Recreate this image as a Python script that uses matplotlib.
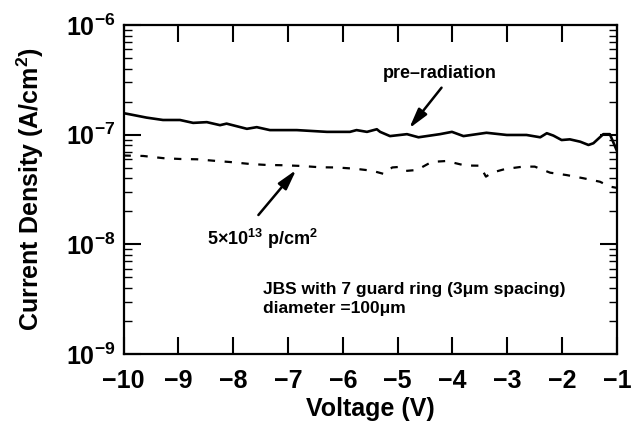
import matplotlib
matplotlib.use("Agg")
import matplotlib.pyplot as plt
from matplotlib.ticker import LogLocator, NullFormatter, FixedLocator, NullLocator

plt.rcParams["font.family"] = ["Liberation Sans", "DejaVu Sans"]
plt.rcParams["font.weight"] = "bold"
plt.rcParams["mathtext.fontset"] = "custom"
plt.rcParams["mathtext.rm"] = "Liberation Sans:bold"
plt.rcParams["mathtext.bf"] = "Liberation Sans:bold"
plt.rcParams["mathtext.it"] = "Liberation Sans:bold"
plt.rcParams["mathtext.default"] = "bf"

# Leakage current density, pre-radiation (solid)
v_pre = [-10.0, -9.88, -9.58, -9.28, -8.97, -8.73, -8.48, -8.24, -8.12, -7.75,
         -7.57, -7.33, -6.84, -6.29, -5.87, -5.75, -5.56, -5.38, -5.32, -5.14,
         -4.83, -4.62, -4.23, -4.01, -3.80, -3.38, -3.01, -2.65, -2.40, -2.28,
         -2.16, -2.01, -1.86, -1.67, -1.52, -1.43, -1.25, -1.13, -1.0]
j_pre = [1.57e-7, 1.53e-7, 1.43e-7, 1.36e-7, 1.36e-7, 1.28e-7, 1.30e-7, 1.22e-7,
         1.26e-7, 1.13e-7, 1.17e-7, 1.10e-7, 1.10e-7, 1.06e-7, 1.06e-7, 1.10e-7,
         1.06e-7, 1.12e-7, 1.06e-7, 9.7e-8, 1.01e-7, 9.46e-8, 1.01e-7, 1.06e-7,
         9.7e-8, 1.04e-7, 9.93e-8, 9.93e-8, 9.46e-8, 1.03e-7, 9.8e-8, 8.93e-8,
         9.06e-8, 8.62e-8, 8.05e-8, 8.35e-8, 1.01e-7, 1.01e-7, 7.1e-8]

# Leakage current density after 5e13 p/cm^2 (dashed)
v_rad = [-10.0, -9.64, -9.27, -8.97, -8.66, -8.30, -8.06, -7.69, -7.39, -7.09,
         -6.75, -6.42, -6.11, -5.78, -5.47, -5.25, -5.10, -4.99, -4.87, -4.65,
         -4.38, -4.11, -3.77, -3.50, -3.39, -3.28, -3.04, -2.71, -2.50, -2.22,
         -1.92, -1.61, -1.31, -1.13, -1.0]
j_rad = [6.45e-8, 6.39e-8, 6.10e-8, 6.00e-8, 5.96e-8, 5.75e-8, 5.63e-8, 5.40e-8,
         5.29e-8, 5.26e-8, 5.18e-8, 5.04e-8, 5.02e-8, 4.89e-8, 4.69e-8, 4.38e-8,
         5.02e-8, 5.07e-8, 4.66e-8, 4.76e-8, 5.64e-8, 5.75e-8, 5.23e-8, 5.21e-8,
         4.14e-8, 4.5e-8, 4.86e-8, 5.11e-8, 5.11e-8, 4.50e-8, 4.28e-8, 4.00e-8,
         3.72e-8, 3.36e-8, 3.27e-8]

x_ticks = [-10, -9, -8, -7, -6, -5, -4, -3, -2, -1]

fig = plt.figure(figsize=(6.36, 4.32), dpi=100)
ax = fig.add_axes([0.1942, 0.1806, 0.7759, 0.7616])

ax.plot(v_pre, j_pre, color="black", lw=1.9, solid_joinstyle="round")
ax.plot(v_rad, j_rad, color="black", lw=1.6, linestyle=(0, (3.3, 4.3)))

ax.set_yscale("log")
ax.set_xlim(-10, -1)
ax.set_ylim(1e-9, 1e-6)

ax.xaxis.set_major_locator(FixedLocator(x_ticks))
ax.xaxis.set_minor_locator(NullLocator())
ax.yaxis.set_major_locator(LogLocator(base=10, numticks=10))
ax.yaxis.set_minor_locator(LogLocator(base=10, subs=range(2, 10), numticks=20))
ax.yaxis.set_minor_formatter(NullFormatter())

ax.tick_params(axis="both", which="major", direction="in", top=True, right=True,
               length=12, width=1.5, labelsize=18)
ax.tick_params(axis="x", which="major", pad=11)
ax.tick_params(axis="y", which="major", pad=6)
ax.tick_params(axis="y", which="minor", direction="in", left=True, right=True,
               length=5.5, width=1.0)
for s in ax.spines.values():
    s.set_linewidth(1.6)

ax.set_xlabel("Voltage (V)", fontsize=18, fontweight="bold", labelpad=3)
ax.set_ylabel("Current Density (A/cm$^2$)", fontsize=18, fontweight="bold", labelpad=14)

arrow = dict(arrowstyle="-|>,head_length=0.6,head_width=0.16", color="black",
             lw=1.8, mutation_scale=20, shrinkA=0, shrinkB=0)
ax.annotate("", xy=(-4.79, 1.14e-7), xytext=(-4.20, 2.68e-7), arrowprops=arrow)
ax.text(-4.24, 3.29e-7, "pre\u2013radiation", fontsize=13, fontweight="bold",
        ha="center", va="baseline")

ax.annotate("", xy=(-6.85, 4.77e-8), xytext=(-7.54, 1.85e-8), arrowprops=arrow)
ax.text(-7.47, 9.86e-9, r"5$\times$10$^{13}$ p/cm$^2$", fontsize=13,
        fontweight="bold", ha="center", va="baseline")

ax.text(0.2827, 0.1824, "JBS with 7 guard ring (3\u03bcm spacing)", fontsize=12.5,
        fontweight="bold", transform=ax.transAxes, ha="left", va="baseline")
ax.text(0.2827, 0.1246, "diameter =100\u03bcm", fontsize=12.5,
        fontweight="bold", transform=ax.transAxes, ha="left", va="baseline")

fig.savefig("out.png", dpi=100)
